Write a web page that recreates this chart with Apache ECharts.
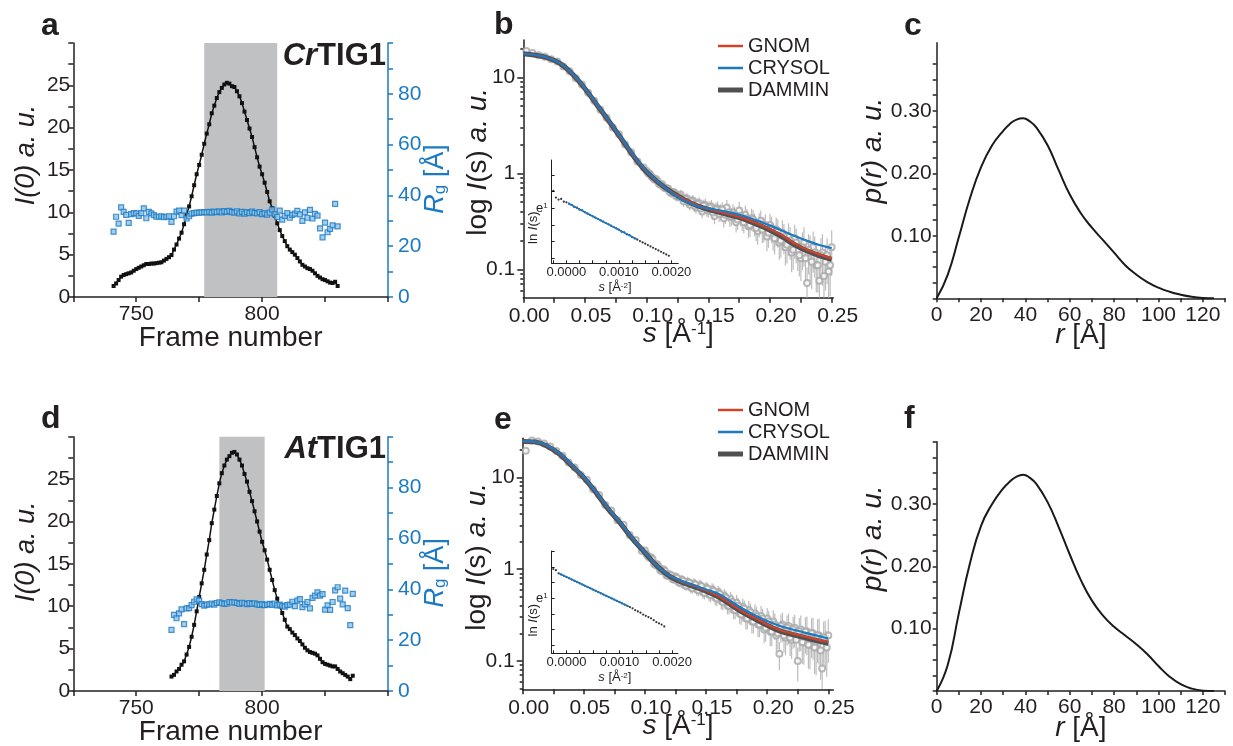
<!DOCTYPE html>
<html><head><meta charset="utf-8">
<script src="https://cdn.jsdelivr.net/npm/echarts@6/dist/echarts.min.js"></script>
<style>html,body{margin:0;padding:0;background:#fff}#c{width:1233px;height:746px}</style>
</head><body><div id="c"></div>
<script>
// ---------------- DATA ----------------
// Panel a (CrTIG1 elution profile): frames 741..830
const aFrameStart = 741;
const aI0 = [1.3,1.6,2.0,2.4,2.6,2.7,2.8,2.9,3.1,3.3,
 3.45,3.6,3.75,3.9,3.9,3.95,3.95,4.0,4.05,4.1,
 4.3,4.5,4.7,4.95,5.6,6.2,6.9,7.6,8.6,9.7,
 10.7,11.9,13.2,14.5,15.6,16.8,18.1,19.3,20.4,21.7,
 22.6,23.5,24.2,24.7,25.1,25.3,25.2,24.9,24.8,24.3,
 23.7,22.9,21.9,20.9,19.9,18.9,17.7,16.5,15.4,14.5,
 13.5,12.4,11.3,10.5,9.6,8.7,7.9,7.2,6.6,6.0,
 5.6,5.3,5.0,4.6,4.2,3.8,3.6,3.4,3.3,3.1,
 2.8,2.5,2.3,2.1,2.0,1.85,1.7,1.65,1.8,1.3];
const aRg = [25.7,31.6,28.9,35.3,33.5,32.3,29.2,32.6,33.0,32.9,
 31.9,33.0,34.9,31.0,33.5,32.9,32.2,31.6,31.6,31.8,
 31.4,31.6,31.8,29.6,31.8,33.6,34.0,32.2,34.0,30.9,
 31.8,32.8,33.0,33.2,33.2,33.3,33.4,33.3,33.5,33.2,
 33.6,33.4,33.7,33.3,33.8,33.5,33.9,33.4,33.2,33.7,
 32.9,33.5,32.8,33.4,33.0,33.6,33.1,32.9,33.4,32.6,
 33.0,32.4,33.2,34.4,32.6,31.5,34.0,30.5,31.9,33.0,
 31.2,32.3,32.8,33.9,32.5,30.0,33.3,31.2,34.3,30.9,
 32.7,32.0,27.0,23.5,29.3,25.5,26.8,28.2,36.7,27.8];
const aBand = [777, 806];

// Panel d (AtTIG1 elution profile): frames 764..836
const dFrameStart = 764;
const dI0 = [1.7,1.9,2.3,2.6,3.1,3.5,4.3,5.2,6.4,7.8,
 9.4,11.1,12.7,14.3,16.1,17.8,19.8,21.4,23.0,24.5,
 25.7,26.6,27.3,27.7,28.1,28.2,27.9,27.3,26.6,25.6,
 24.7,23.5,22.4,21.2,20.0,18.8,17.6,16.6,15.5,14.3,
 13.1,11.9,10.9,10.0,9.2,8.4,7.6,7.3,6.9,6.6,
 6.2,5.9,5.5,5.1,4.8,4.6,4.5,4.4,4.2,3.8,
 3.4,3.2,3.1,3.0,2.9,2.9,2.6,2.3,2.1,1.9,
 1.7,1.4,1.8];
const dRg = [24.0,29.9,28.6,30.5,32.1,26.3,32.5,32.6,33.8,35.1,
 36.0,35.5,34.2,33.6,34.0,34.1,34.4,34.0,34.6,34.9,
 34.5,34.3,34.4,35.0,34.8,34.9,34.6,34.3,34.7,34.5,
 34.2,34.6,34.3,34.5,34.1,33.9,34.2,33.8,34.0,34.3,
 33.9,34.4,33.7,34.0,33.5,33.2,33.8,34.0,35.1,33.4,
 35.5,36.1,33.0,34.1,35.0,32.5,36.6,37.5,38.8,37.5,
 38.1,32.0,33.7,31.9,35.0,39.6,40.8,36.3,34.1,39.5,
 32.6,25.9,38.2];
const dBand = [783, 801];

// Panels b, e: model curves
const fitS = [0,0.01,0.02,0.03,0.04,0.05,0.06,0.07,0.08,0.09,0.10,0.11,0.12,0.13,0.14,0.15,0.16,0.17,0.18,0.19,0.20,0.21,0.22,0.23,0.24,0.25];
const bGNOM   = [17.6,17.1,16.0,14.0,10.8,7.6,5.1,3.4,2.25,1.48,1.04,0.79,0.64,0.54,0.47,0.425,0.395,0.366,0.335,0.298,0.262,0.225,0.185,0.160,0.143,0.130];
const bCRYSOL = [17.6,17.1,16.0,14.0,10.9,7.7,5.2,3.45,2.28,1.50,1.05,0.80,0.63,0.52,0.46,0.43,0.41,0.385,0.355,0.32,0.285,0.252,0.222,0.198,0.179,0.166];
const bDAMMIN = [17.6,17.0,15.9,13.9,10.8,7.6,5.1,3.4,2.24,1.47,1.03,0.79,0.64,0.535,0.465,0.42,0.39,0.36,0.33,0.292,0.255,0.218,0.18,0.156,0.139,0.127];
const eGNOM   = [24.8,24.5,22.0,18.1,13.5,10.0,6.85,4.55,3.2,2.15,1.53,1.09,0.85,0.73,0.655,0.585,0.51,0.42,0.345,0.293,0.25,0.218,0.2,0.186,0.172,0.161];
const eCRYSOL = [24.8,24.5,22.2,18.3,13.7,10.1,6.9,4.6,3.2,2.15,1.52,1.08,0.85,0.74,0.665,0.60,0.54,0.45,0.37,0.315,0.272,0.242,0.222,0.205,0.19,0.176];
const eDAMMIN = [24.6,24.3,21.8,17.9,13.4,9.9,6.8,4.5,3.15,2.12,1.51,1.08,0.84,0.72,0.645,0.575,0.50,0.41,0.338,0.287,0.245,0.213,0.195,0.181,0.167,0.156];

// Panels b, e: experimental scattering data (s, I, relative error)
const expS = [0.0025,0.0075,0.0125,0.0175,0.0225,0.0275,0.0325,0.0375,0.0425,0.0475,
 0.0525,0.0575,0.0625,0.0675,0.0725,0.0775,0.0825,0.0875,0.0925,0.0975,
 0.1,0.1025,0.105,0.1075,0.11,0.1125,0.115,0.1175,0.12,0.1225,
 0.125,0.1275,0.13,0.1325,0.135,0.1375,0.14,0.1425,0.145,0.1475,
 0.15,0.1525,0.155,0.1575,0.16,0.1625,0.165,0.1675,0.17,0.1725,
 0.175,0.1775,0.18,0.1825,0.185,0.1875,0.19,0.1925,0.195,0.1975,
 0.2,0.2025,0.205,0.2075,0.21,0.2125,0.215,0.2175,0.22,0.2225,
 0.225,0.2275,0.23,0.2325,0.235,0.2375,0.24,0.2425,0.245,0.2475,
 0.25,
 0.10125,0.10375,0.10625,0.10875,0.11125,0.11375,0.11625,0.11875,0.12125,0.12375,
 0.12625,0.12875,0.13125,0.13375,0.13625,0.13875,0.14125,0.14375,0.14625,0.14875,
 0.15125,0.15375,0.15625,0.15875,0.16125,0.16375,0.16625,0.16875,0.17125,0.17375,
 0.17625,0.17875,0.18125,0.18375,0.18625,0.18875,0.19125,0.19375,0.19625,0.19875,
 0.20125,0.20375,0.20625,0.20875,0.21125,0.21375,0.21625,0.21875,0.22125,0.22375,
 0.22625,0.22875,0.23125,0.23375,0.23625,0.23875,0.24125,0.24375,0.24625,0.24875];
const bExpI = [18.8,17.9,17.0,16.4,15.4,14.6,13.0,11.6,9.8,8.4,
 6.9,5.7,4.6,3.8,3.0,2.55,2.0,1.66,1.33,1.15,
 1.06,0.99,0.90,0.87,0.78,0.77,0.70,0.69,0.62,0.63,
 0.57,0.60,0.51,0.55,0.47,0.52,0.44,0.49,0.40,0.47,
 0.41,0.45,0.36,0.43,0.40,0.34,0.44,0.35,0.39,0.31,
 0.41,0.33,0.37,0.28,0.34,0.30,0.25,0.32,0.27,0.22,
 0.29,0.23,0.26,0.19,0.24,0.17,0.22,0.15,0.21,0.16,
 0.13,0.19,0.072,0.15,0.17,0.11,0.076,0.15,0.12,0.095,
 0.17,
 1.00,0.93,0.86,0.83,0.76,0.72,0.70,0.64,0.64,0.58,
 0.58,0.55,0.54,0.50,0.51,0.46,0.48,0.43,0.46,0.42,
 0.44,0.39,0.42,0.38,0.42,0.37,0.39,0.36,0.37,0.33,
 0.36,0.31,0.34,0.29,0.33,0.27,0.30,0.26,0.29,0.24,
 0.27,0.21,0.25,0.20,0.22,0.18,0.20,0.16,0.19,0.14,
 0.17,0.13,0.16,0.12,0.15,0.11,0.14,0.085,0.14,0.11];
const bExpErr = [0.05,0.02,0.02,0.02,0.02,0.02,0.02,0.02,0.02,0.02,
 0.02,0.03,0.03,0.03,0.03,0.04,0.04,0.05,0.05,0.06,
 0.06,0.07,0.07,0.08,0.08,0.09,0.09,0.10,0.10,0.11,
 0.11,0.12,0.12,0.13,0.13,0.14,0.14,0.15,0.15,0.16,
 0.16,0.17,0.18,0.18,0.19,0.20,0.20,0.21,0.22,0.22,
 0.23,0.24,0.25,0.25,0.26,0.27,0.28,0.28,0.29,0.30,
 0.31,0.32,0.33,0.34,0.35,0.36,0.37,0.38,0.39,0.40,
 0.42,0.44,0.45,0.50,0.46,0.48,0.50,0.55,0.50,0.55,
 0.50,
 0.06,0.07,0.07,0.08,0.08,0.09,0.09,0.10,0.10,0.11,
 0.11,0.12,0.12,0.13,0.13,0.14,0.14,0.15,0.15,0.16,
 0.16,0.17,0.18,0.18,0.19,0.20,0.20,0.21,0.22,0.22,
 0.23,0.24,0.25,0.25,0.26,0.27,0.28,0.28,0.29,0.30,
 0.31,0.32,0.33,0.34,0.35,0.36,0.37,0.38,0.39,0.40,
 0.42,0.44,0.45,0.48,0.46,0.48,0.50,0.52,0.50,0.52];
const eExpI = [19.5,25.2,24.6,23.4,21.6,19.3,17.2,14.5,12.8,10.6,
 9.4,7.4,6.4,5.0,4.35,3.4,3.05,2.35,2.08,1.58,
 1.60,1.38,1.35,1.14,1.13,0.97,1.00,0.86,0.88,0.78,
 0.83,0.72,0.77,0.67,0.73,0.63,0.70,0.60,0.67,0.56,
 0.63,0.53,0.60,0.49,0.56,0.45,0.51,0.40,0.47,0.36,
 0.43,0.33,0.39,0.29,0.36,0.27,0.33,0.25,0.31,0.22,
 0.29,0.21,0.27,0.19,0.12,0.25,0.18,0.24,0.17,0.23,
 0.10,0.22,0.16,0.21,0.15,0.20,0.14,0.19,0.083,0.18,
 0.19,
 1.45,1.33,1.28,1.10,1.07,0.95,0.96,0.84,0.86,0.77,
 0.80,0.71,0.75,0.66,0.71,0.62,0.68,0.59,0.65,0.55,
 0.61,0.52,0.58,0.48,0.54,0.44,0.49,0.40,0.44,0.36,
 0.40,0.32,0.37,0.29,0.34,0.27,0.31,0.25,0.29,0.23,
 0.27,0.21,0.25,0.20,0.24,0.19,0.23,0.18,0.22,0.17,
 0.21,0.16,0.21,0.15,0.20,0.14,0.19,0.13,0.18,0.14];
const eExpErr = [0.05,0.02,0.02,0.02,0.02,0.02,0.02,0.02,0.02,0.02,
 0.02,0.03,0.03,0.03,0.03,0.04,0.04,0.05,0.05,0.05,
 0.06,0.06,0.07,0.07,0.08,0.08,0.09,0.09,0.10,0.10,
 0.11,0.11,0.12,0.12,0.13,0.13,0.14,0.14,0.15,0.15,
 0.16,0.16,0.17,0.18,0.18,0.19,0.19,0.20,0.21,0.21,
 0.22,0.23,0.23,0.24,0.25,0.26,0.26,0.27,0.28,0.29,
 0.30,0.31,0.32,0.33,0.34,0.35,0.36,0.37,0.38,0.39,
 0.40,0.42,0.43,0.45,0.46,0.48,0.50,0.52,0.55,0.52,
 0.50,
 0.06,0.06,0.07,0.07,0.08,0.08,0.09,0.09,0.10,0.10,
 0.11,0.11,0.12,0.12,0.13,0.13,0.14,0.14,0.15,0.15,
 0.16,0.16,0.17,0.18,0.18,0.19,0.19,0.20,0.21,0.21,
 0.22,0.23,0.23,0.24,0.25,0.26,0.26,0.27,0.28,0.29,
 0.30,0.31,0.32,0.33,0.34,0.35,0.36,0.37,0.38,0.39,
 0.40,0.42,0.43,0.45,0.46,0.48,0.50,0.52,0.50,0.52];

// Insets: Guinier plots (s^2, ln I) and fitted range
const guinS2 = [-0.00025,-0.0002,-0.00015,-0.0001,-0.00005,0,0.00005,0.0001,0.00015,0.0002,
 0.00025,0.0003,0.00035,0.0004,0.00045,0.0005,0.00055,0.0006,0.00065,0.0007,
 0.00075,0.0008,0.00085,0.0009,0.00095,0.001,0.00105,0.0011,0.00115,0.0012,
 0.00125,0.0013,0.00135,0.0014,0.00145,0.0015,0.00155,0.0016,0.00165,0.0017,
 0.00175,0.0018,0.00185,0.0019,0.00195];
const bGuinLn = [1.26,1.16,1.13,1.14,1.10,1.09,1.07,1.05,1.02,1.01,
 0.98,0.97,0.94,0.92,0.90,0.88,0.86,0.84,0.82,0.80,
 0.78,0.76,0.74,0.72,0.70,0.68,0.65,0.64,0.61,0.60,
 0.57,0.55,0.53,0.51,0.49,0.47,0.45,0.43,0.41,0.39,
 0.37,0.35,0.33,0.31,0.29];
const bGuinFit = [[0.00003, 1.075], [0.00134, 0.536]];
const eGuinLn = [1.47,1.45,1.40,1.38,1.36,1.34,1.32,1.30,1.28,1.26,
 1.24,1.22,1.20,1.18,1.16,1.14,1.12,1.10,1.08,1.06,
 1.04,1.02,1.00,0.98,0.96,0.94,0.92,0.90,0.88,0.86,
 0.84,0.81,0.79,0.77,0.74,0.72,0.70,0.68,0.65,0.62,
 0.60,0.58,0.55];
const eGuinFit = [[-0.000146, 1.40], [0.00118, 0.87]];

// Panels c, f: pair distance distribution p(r)
const prR = [0,5,10,15,20,25,30,33,36,39,42,45,50,55,60,65,70,75,80,85,90,95,100,105,110,115,120,125];
const cP = [0,0.038,0.098,0.160,0.210,0.245,0.268,0.279,0.286,0.288,0.283,0.273,0.245,0.205,0.166,0.136,0.113,0.093,0.073,0.053,0.038,0.026,0.017,0.0105,0.0058,0.0025,0.0006,0];
const fP = [0,0.042,0.125,0.205,0.265,0.300,0.325,0.336,0.344,0.347,0.342,0.332,0.303,0.263,0.219,0.178,0.145,0.121,0.103,0.089,0.075,0.059,0.040,0.023,0.011,0.0038,0.0006,0];

// Tick / label values
const frameTicks = [725,750,775,800,825,850];
const frameLabels = [750,800];
const i0Ticks = [0,2.5,5,7.5,10,12.5,15,17.5,20,22.5,25,27.5,30];
const i0Labels = [0,5,10,15,20,25];
const rgTicks = [0,10,20,30,40,50,60,70,80,90,100];
const rgLabels = [0,20,40,60,80];
const sTicks = [0,0.025,0.05,0.075,0.1,0.125,0.15,0.175,0.2,0.225,0.25];
const sLabels = [0,0.05,0.1,0.15,0.2,0.25];
const logMajor = [0.1,1,10];
const logMinorBase = [2,3,4,5,6,7,8,9];
const rTicks = [0,10,20,30,40,50,60,70,80,90,100,110,120,130];
const rLabels = [0,20,40,60,80,100,120];
const pTicksC = [0,0.025,0.05,0.075,0.1,0.125,0.15,0.175,0.2,0.225,0.25,0.275,0.3,0.325,0.35,0.375];
const pTicksF = [0,0.025,0.05,0.075,0.1,0.125,0.15,0.175,0.2,0.225,0.25,0.275,0.3,0.325,0.35,0.375,0.4];
const pLabels = [0.1,0.2,0.3];
const s2Ticks = [-0.00025,0,0.00025,0.0005,0.00075,0.001,0.00125,0.0015,0.00175,0.002];
const s2Labels = [0,0.001,0.002];
const lnTicks = [0.25,0.5,0.75,1,1.25,1.5,1.75];
const lnLabels = [1];

// ---------------- CHART ----------------
const FONT = '"Liberation Sans", Arial, Helvetica, sans-serif';
const TXT = '#231f20';
const BLUE = '#1b7ac3';
const RED = '#d0432b';
const DARK = '#505050';

function rich(size, color) {
  return {
    n: {fontSize: size, fontFamily: FONT, color: color},
    i: {fontSize: size, fontFamily: FONT, fontStyle: 'italic', color: color},
    sup: {fontSize: Math.round(size * 0.6), fontFamily: FONT, verticalAlign: 'top', color: color},
    sub: {fontSize: Math.round(size * 0.62), fontFamily: FONT, verticalAlign: 'bottom', color: color}
  };
}

// label axis (line + labels + name), no ticks
function mkAxis(o) {
  const color = o.color || TXT;
  const lw = o.lineWidth || 1.5;
  const ax = {
    type: 'value', gridIndex: o.grid, min: o.min, max: o.max, nameMoveOverlap: false,
    axisLine: {show: true, onZero: false, lineStyle: {color: color, width: lw}},
    axisTick: {show: false},
    axisLabel: {show: !!o.labels, customValues: o.labels || [], formatter: o.fmt,
      fontSize: o.fontSize || 21, fontFamily: FONT, color: color, margin: o.margin == null ? 6 : o.margin},
    splitLine: {show: false}, minorTick: {show: false}
  };
  if (o.position) ax.position = o.position;
  if (o.padding) ax.axisLabel.padding = o.padding;
  if (o.labelRich) ax.axisLabel.rich = o.labelRich;
  if (o.name) {
    ax.name = o.name; ax.nameLocation = 'middle'; ax.nameGap = o.nameGap;
    ax.nameTextStyle = {fontSize: o.nameSize, fontFamily: FONT, color: color, rich: rich(o.nameSize, color)};
    if (o.namePad) ax.nameTextStyle.padding = o.namePad;
  }
  return ax;
}
// tick-only axis, living alone on its side of a twin grid
function mkTickAxis(grid, min, max, ticks, opt) {
  opt = opt || {};
  const ax = {
    type: 'value', gridIndex: grid, min: min, max: max,
    axisLine: {show: false, onZero: false},
    axisTick: {show: true, inside: !!opt.inside, length: opt.len || 5,
      lineStyle: {color: opt.color || TXT, width: opt.width || 1.5}, customValues: ticks},
    axisLabel: {show: false, customValues: []},
    splitLine: {show: false}, minorTick: {show: false}
  };
  if (opt.position) ax.position = opt.position;
  return ax;
}
const dummyAxis = g => ({type: 'value', gridIndex: g, min: 0, max: 1, show: false});

const L10 = Math.log10;
const logTicksMajor = logMajor.map(L10);
const logTicksMinor = [];
[0.01, 0.1, 1, 10].forEach(d => logMinorBase.forEach(k => logTicksMinor.push(L10(k * d))));
const logFmt = v => (Math.abs(v + 1) < 1e-9 ? '0.1' : Math.abs(v) < 1e-9 ? '1' : '10');

const G = [
  {left: 73.3, top: 43, width: 314.7, height: 254},     // 0 a
  {left: 523.3, top: 40, width: 310, height: 257.7},    // 1 b
  {left: 936.7, top: 42.7, width: 288.3, height: 255.6},// 2 c
  {left: 73.3, top: 436.7, width: 314.7, height: 254.3},// 3 d
  {left: 522.7, top: 438.3, width: 310.6, height: 251}, // 4 e
  {left: 936.7, top: 441.7, width: 288.3, height: 249.3},// 5 f
  {left: 551.7, top: 160, width: 126.6, height: 103.3}, // 6 b inset
  {left: 551.7, top: 551, width: 126.3, height: 102.3}  // 7 e inset
];
// grids 8..15 : tick twins of 0..7 ; 16,17 : Rg tick twins of a,d ; 18,19 : log-minor twins of b,e
const gridList = G.concat(G, [G[0], G[3], G[1], G[4]])
  .map(g => Object.assign({containLabel: false, outerBoundsMode: 'none'}, g));

// ranges
const R = {
  frame: [725, 850], i0: [0, 30], rg: [0, 100],
  bs: [0, 0.2513], es: [0, 0.2541], by: [-1.296, 1.389], ey: [-1.308, 1.4246],
  r: [0, 130], cp: [0, 0.409], fp: [0, 0.40],
  bs2: [-0.00028, 0.00213], es2: [-0.00028, 0.00211], bln: [0.177, 1.723], eln: [0.119, 1.758]
};

// ---- x axes ----
const frameX = g => mkAxis({grid: g, position: 'bottom', min: R.frame[0], max: R.frame[1], labels: frameLabels,
  fmt: v => String(v), margin: 7, name: 'Frame number', nameGap: 27, nameSize: 28});
const sX = (g, rg) => mkAxis({grid: g, position: 'bottom', min: rg[0], max: rg[1], labels: sLabels,
  fmt: v => v.toFixed(2), margin: 8, padding: [0, 0, 0, 12],
  name: '{i|s}{n| [Å}{sup|-1}{n|]}', nameGap: 23, nameSize: 28});
const rX = g => mkAxis({grid: g, position: 'bottom', min: R.r[0], max: R.r[1], labels: rLabels,
  fmt: v => String(v), margin: 6, name: '{i|r}{n| [Å]}', nameGap: 23, nameSize: 28});
const s2X = (g, rg) => mkAxis({grid: g, position: 'bottom', min: rg[0], max: rg[1], labels: s2Labels,
  fmt: v => v.toFixed(4), fontSize: 13, margin: 3, lineWidth: 1,
  name: '{i|s}{n| [Å}{sup|-2}{n|]}', nameGap: 18, nameSize: 13});

const xAxis = [
  frameX(0), sX(1, R.bs), rX(2), frameX(3), sX(4, R.es), rX(5), s2X(6, R.bs2), s2X(7, R.es2),
  // tick twins (grids 8..15)
  mkTickAxis(8, R.frame[0], R.frame[1], frameTicks, {position: 'bottom'}),
  mkTickAxis(9, R.bs[0], R.bs[1], sTicks, {position: 'bottom'}),
  mkTickAxis(10, R.r[0], R.r[1], rTicks, {position: 'bottom', len: 4}),
  mkTickAxis(11, R.frame[0], R.frame[1], frameTicks, {position: 'bottom'}),
  mkTickAxis(12, R.es[0], R.es[1], sTicks, {position: 'bottom'}),
  mkTickAxis(13, R.r[0], R.r[1], rTicks, {position: 'bottom', len: 4}),
  mkTickAxis(14, R.bs2[0], R.bs2[1], s2Ticks, {position: 'bottom', inside: true, len: 3, width: 1}),
  mkTickAxis(15, R.es2[0], R.es2[1], s2Ticks, {position: 'bottom', inside: true, len: 3, width: 1}),
  dummyAxis(16), dummyAxis(17), dummyAxis(18), dummyAxis(19)
];

// ---- y axes ----
// namePad shifts a rotated name along its axis: [0,0,0,2d] moves it up by d, [0,2d,0,0] down by d
const i0Y = (g, up) => mkAxis({grid: g, position: 'left', min: R.i0[0], max: R.i0[1], labels: i0Labels,
  fmt: v => String(v), margin: 3, padding: [0, 0, 11, 0], name: '{i|I(0) a. u.}', nameGap: 33, nameSize: 27,
  namePad: [0, 0, 0, 2 * up]});
const rgY = (g, down) => mkAxis({grid: g, position: 'right', min: R.rg[0], max: R.rg[1], labels: rgLabels,
  fmt: v => String(v), margin: 10, padding: [0, 0, 11, 0], color: BLUE,
  name: '{i|R}{sub|g}{n| [Å]}', nameGap: 34, nameSize: 27, namePad: [0, 2 * down, 0, 0]});
const logY = (g, rg, up) => mkAxis({grid: g, position: 'left', min: rg[0], max: rg[1], labels: logTicksMajor,
  fmt: logFmt, margin: 8, padding: [0, 0, 11, 0],
  name: '{n|log }{i|I}{n|(s) }{i|a. u.}', nameGap: 31, nameSize: 28, namePad: [0, 0, 0, 2 * up]});
const pY = (g, rg, up) => mkAxis({grid: g, position: 'left', min: rg[0], max: rg[1], labels: pLabels,
  fmt: v => v.toFixed(2), margin: 5, padding: [0, 0, 15, 0],
  name: '{i|p(r) a. u.}', nameGap: 49, nameSize: 28, namePad: [0, 0, 0, 2 * up]});
const lnY = (g, rg, down) => mkAxis({grid: g, position: 'left', min: rg[0], max: rg[1], labels: lnLabels,
  fmt: () => '{e|e}{s|1}', fontSize: 13, margin: 4, lineWidth: 1,
  labelRich: {e: {fontSize: 13, fontFamily: FONT, color: TXT}, s: {fontSize: 8, fontFamily: FONT, verticalAlign: 'top', color: TXT}},
  name: '{n|ln }{i|I}{n|(s)}', nameGap: 12, nameSize: 13, namePad: [0, 2 * down, 0, 0]});

const yAxis = [
  i0Y(0, 15), rgY(0, 9), logY(1, R.by, 7), pY(2, R.cp, 20), i0Y(3, 12), rgY(3, 9), logY(4, R.ey, 7), pY(5, R.fp, 28),
  lnY(6, R.bln, 16), lnY(7, R.eln, 18),                                       // 0..9
  mkTickAxis(8, R.i0[0], R.i0[1], i0Ticks, {position: 'left'}),              // 10
  mkTickAxis(9, R.by[0], R.by[1], logTicksMajor, {position: 'left', len: 6}),
  mkTickAxis(10, R.cp[0], R.cp[1], pTicksC, {position: 'left', len: 4}),
  mkTickAxis(11, R.i0[0], R.i0[1], i0Ticks, {position: 'left'}),
  mkTickAxis(12, R.ey[0], R.ey[1], logTicksMajor, {position: 'left', len: 6}),
  mkTickAxis(13, R.fp[0], R.fp[1], pTicksF, {position: 'left', len: 4}),
  mkTickAxis(14, R.bln[0], R.bln[1], lnTicks, {position: 'left', inside: true, len: 3, width: 1}),
  mkTickAxis(15, R.eln[0], R.eln[1], lnTicks, {position: 'left', inside: true, len: 3, width: 1}),
  mkTickAxis(16, R.rg[0], R.rg[1], rgTicks, {position: 'right', color: BLUE}),
  mkTickAxis(17, R.rg[0], R.rg[1], rgTicks, {position: 'right', color: BLUE}),
  mkTickAxis(18, R.by[0], R.by[1], logTicksMinor, {position: 'left', len: 3}),
  mkTickAxis(19, R.ey[0], R.ey[1], logTicksMinor, {position: 'left', len: 3})
];

// ---- series ----
function bandSeries(xi, yi, band) {
  return {type: 'custom', xAxisIndex: xi, yAxisIndex: yi, z: 1, silent: true,
    data: [[band[0], band[1]]],
    renderItem: (p, api) => {
      const p1 = api.coord([api.value(0), 30]);
      const p2 = api.coord([api.value(1), 0]);
      return {type: 'rect', shape: {x: p1[0], y: p1[1], width: p2[0] - p1[0], height: p2[1] - p1[1]},
        style: {fill: '#c0c1c3'}};
    }};
}
function elutionSeries(xi, yi, yr, start, i0, rg, band) {
  return [
    bandSeries(xi, yi, band),
    {type: 'line', xAxisIndex: xi, yAxisIndex: yi, z: 3, data: i0.map((v, k) => [start + k, v]),
      symbol: 'rect', symbolSize: 4, showAllSymbol: true, itemStyle: {color: '#111'},
      lineStyle: {color: '#111', width: 1.5}},
    {type: 'scatter', xAxisIndex: xi, yAxisIndex: yr, z: 4, data: rg.map((v, k) => [start + k, v]),
      symbol: 'rect', symbolSize: 5, itemStyle: {color: '#8cc3ea', borderColor: '#1d79c2', borderWidth: 1.2}}
  ];
}
function scatteringSeries(xi, yi, expI, expErr, gnom, crysol, dammin, ymin) {
  const errData = expS.map((s, k) => [s, Math.max(L10(expI[k] * (1 - expErr[k])), ymin),
    L10(expI[k] * (1 + expErr[k]))]);
  const line = (name, arr, color, w, z) => ({type: 'line', name, xAxisIndex: xi, yAxisIndex: yi, z,
    data: arr.map((v, k) => [fitS[k], L10(v)]), smooth: 0.4, symbol: 'none',
    lineStyle: {color, width: w}, itemStyle: {color}});
  return [
    {type: 'custom', xAxisIndex: xi, yAxisIndex: yi, z: 1, clip: true, silent: true, data: errData,
      renderItem: (p, api) => {
        const a = api.coord([api.value(0), api.value(1)]);
        const b = api.coord([api.value(0), api.value(2)]);
        return {type: 'line', shape: {x1: a[0], y1: a[1], x2: b[0], y2: b[1]},
          style: {stroke: '#bdbdbd', lineWidth: 1.2}};
      }},
    {type: 'scatter', xAxisIndex: xi, yAxisIndex: yi, z: 2, silent: true,
      data: expS.map((s, k) => [s, L10(expI[k])]), symbol: 'emptyCircle', symbolSize: 6,
      itemStyle: {color: '#a8a8a8', borderWidth: 1}},
    line('DAMMIN', dammin, DARK, 5, 3),
    line('GNOM', gnom, RED, 2.2, 4),
    line('CRYSOL', crysol, BLUE, 2.2, 5)
  ];
}
function prSeries(xi, yi, p) {
  return {type: 'line', xAxisIndex: xi, yAxisIndex: yi, data: prR.map((r, k) => [r, p[k]]),
    smooth: 0.5, symbol: 'none', lineStyle: {color: '#1a1a1a', width: 2}};
}
function guinierSeries(xi, yi, ln, fit) {
  return [
    {type: 'scatter', xAxisIndex: xi, yAxisIndex: yi, z: 3, data: ln.map((v, k) => [guinS2[k], v]),
      symbol: 'circle', symbolSize: 2.2, itemStyle: {color: '#000'}},
    {type: 'line', xAxisIndex: xi, yAxisIndex: yi, z: 4, data: fit, symbol: 'none',
      lineStyle: {color: BLUE, width: 1.6}}
  ];
}

const series = [].concat(
  elutionSeries(0, 0, 1, aFrameStart, aI0, aRg, aBand),
  scatteringSeries(1, 2, bExpI, bExpErr, bGNOM, bCRYSOL, bDAMMIN, R.by[0]),
  [prSeries(2, 3, cP)],
  elutionSeries(3, 4, 5, dFrameStart, dI0, dRg, dBand),
  scatteringSeries(4, 6, eExpI, eExpErr, eGNOM, eCRYSOL, eDAMMIN, R.ey[0]),
  [prSeries(5, 7, fP)],
  guinierSeries(6, 8, bGuinLn, bGuinFit),
  guinierSeries(7, 9, eGuinLn, eGuinFit)
);

const thinIcon = 'path://M0,0h0.01v0.01h-0.01z M0,1.2h25v2.6h-25z M24.99,4.99h0.01v0.01h-0.01z';
const legendBase = {orient: 'vertical', itemWidth: 25, itemHeight: 5, itemGap: 2, padding: 0,
  selectedMode: false, textStyle: {fontSize: 20, fontFamily: FONT, color: TXT},
  data: [{name: 'GNOM', icon: thinIcon}, {name: 'CRYSOL', icon: thinIcon}, {name: 'DAMMIN', icon: 'rect'}]};

const letter = (t, x, y) => ({type: 'text', x, y, z: 100,
  style: {text: t, fontSize: 32, fontWeight: 'bold', fontFamily: FONT, fill: TXT,
    textAlign: 'left', textVerticalAlign: 'middle'}});
const proteinTitle = (pre, x, y) => ({type: 'text', x, y, z: 100,
  style: {text: '{i|' + pre + '}{b|TIG1}', fill: TXT, textAlign: 'right', textVerticalAlign: 'middle',
    rich: {i: {fontSize: 31, fontWeight: 'bold', fontStyle: 'italic', fontFamily: FONT, fill: TXT, color: TXT},
           b: {fontSize: 31, fontWeight: 'bold', fontFamily: FONT, fill: TXT, color: TXT}}}});

const option = {
  animation: false,
  backgroundColor: '#fff',
  textStyle: {fontFamily: FONT},
  grid: gridList,
  xAxis, yAxis, series,
  legend: [
    Object.assign({left: 718, top: 36}, legendBase),
    Object.assign({left: 718, top: 400}, legendBase)
  ],
  graphic: [
    letter('a', 41, 26), letter('b', 494, 25), letter('c', 904, 26),
    letter('d', 41, 419), letter('e', 494, 420), letter('f', 904, 419),
    proteinTitle('Cr', 386, 56), proteinTitle('At', 386, 449)
  ]
};

const chart = echarts.init(document.getElementById('c'), null, {renderer: 'canvas'});
chart.setOption(option);
</script></body></html>
